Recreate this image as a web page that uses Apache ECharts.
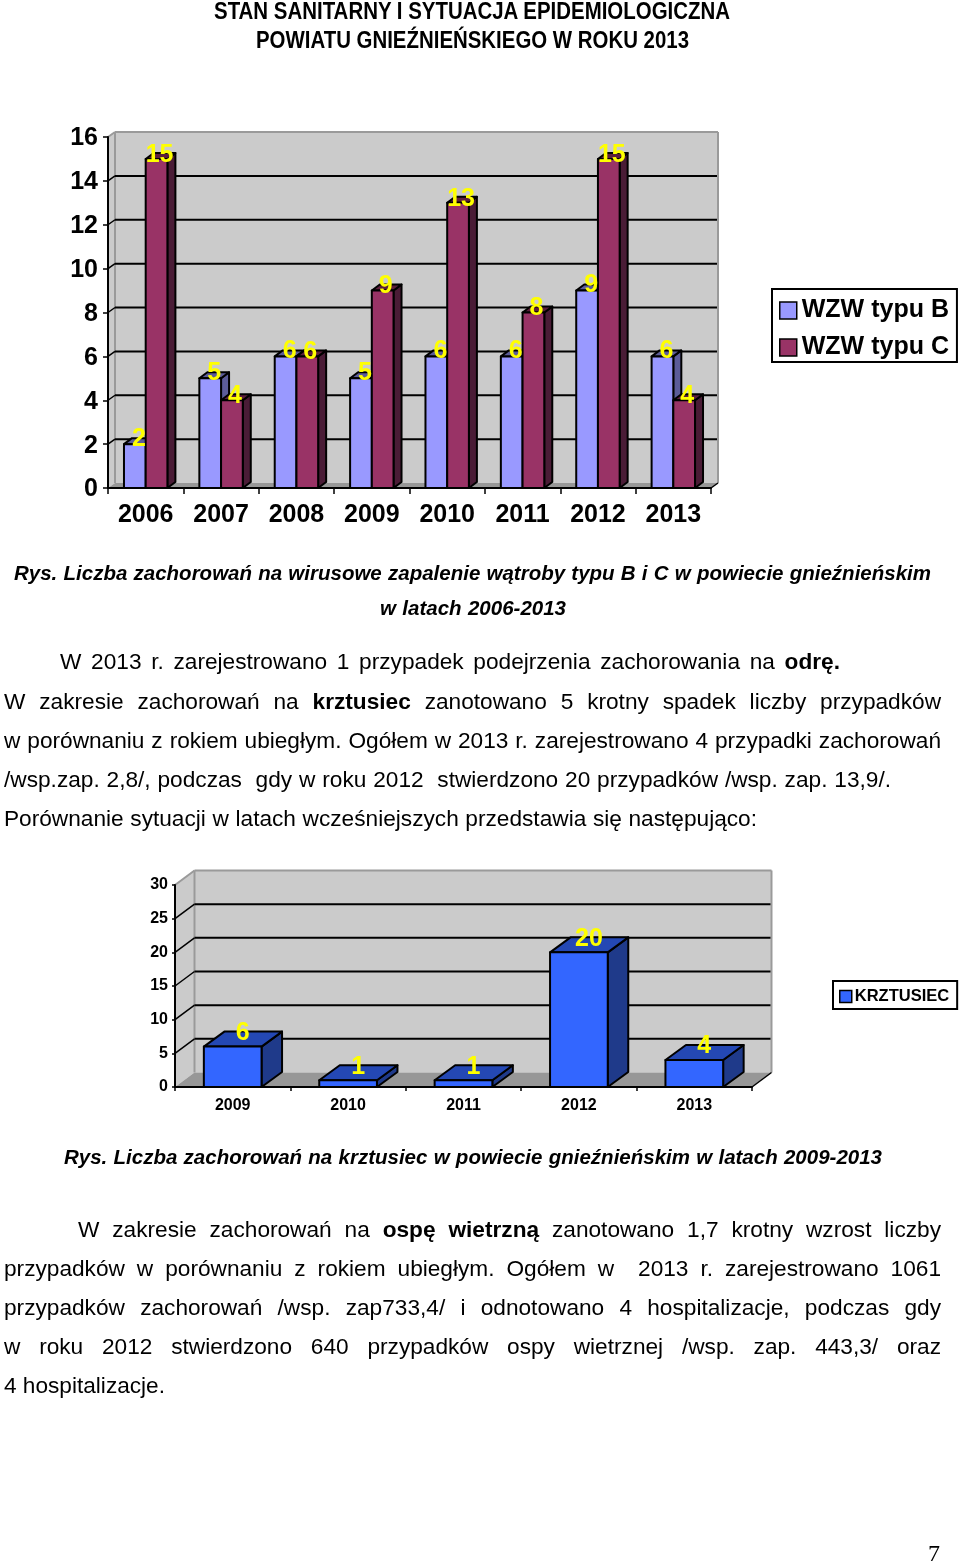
<!DOCTYPE html>
<html><head><meta charset="utf-8">
<script src="https://cdn.jsdelivr.net/npm/echarts@6/dist/echarts.min.js"></script>
<style>
html,body{margin:0;padding:0;background:#fff}
#page{position:relative;width:960px;height:1563px;overflow:hidden;background:#fff}
#chart{position:absolute;left:0;top:0;width:960px;height:1563px}
.ln{position:absolute;font-family:"Liberation Sans",Arial,sans-serif;color:#000;white-space:nowrap;text-align:justify;text-align-last:justify;line-height:1.2}
</style></head><body><div id="page"><div id="chart"></div></div>
<script>
const wzwYears = ['2006','2007','2008','2009','2010','2011','2012','2013'];
const wzwB = [2,5,6,5,6,6,9,6];
const wzwC = [15,4,6,9,13,8,15,4];
const krzYears = ['2009','2010','2011','2012','2013'];
const krzValues = [6,1,1,20,4];
const textLines = [
 'STAN SANITARNY I SYTUACJA EPIDEMIOLOGICZNA',
 'POWIATU GNIEŹNIEŃSKIEGO W ROKU 2013',
 'Rys. Liczba zachorowań na wirusowe zapalenie wątroby typu B i C w powiecie gnieźnieńskim',
 'w latach 2006-2013',
 'W 2013 r. zarejestrowano 1 przypadek podejrzenia zachorowania na <b>odrę.</b>',
 'W zakresie zachorowań na <b>krztusiec</b> zanotowano 5 krotny spadek liczby przypadków',
 'w porównaniu z rokiem ubiegłym. Ogółem w 2013 r. zarejestrowano 4 przypadki zachorowań',
 '/wsp.zap. 2,8/, podczas\u00a0 gdy w roku 2012\u00a0 stwierdzono 20 przypadków /wsp. zap. 13,9/.',
 'Porównanie sytuacji w latach wcześniejszych przedstawia się następująco:',
 'Rys. Liczba zachorowań na krztusiec w powiecie gnieźnieńskim w latach 2009-2013',
 'W zakresie zachorowań na <b>ospę wietrzną</b> zanotowano 1,7 krotny wzrost liczby',
 'przypadków w porównaniu z rokiem ubiegłym. Ogółem w\u00a0 2013 r. zarejestrowano 1061',
 'przypadków zachorowań /wsp. zap733,4/ i odnotowano 4 hospitalizacje, podczas gdy',
 'w roku 2012 stwierdzono 640 przypadków ospy wietrznej /wsp. zap. 443,3/ oraz',
 '4 hospitalizacje.'
];
const pageNumber = '7';
// layout of the text lines: [left, right, centre y, style]
const textLayout = [
 [214,730,11,'h'],[256,689,40,'h'],[14,931,573,'c'],[380,566,608,'c'],
 [60,840,662,'p'],[4,941,702,'p'],[4,941,741,'p'],[4,891,780,'p'],[4,757,819,'p'],
 [64,882,1157,'c'],[78,941,1230,'p'],[4,941,1269,'p'],[4,941,1308,'p'],[4,941,1347,'p'],[4,165,1386,'p']
];
const styles = {
 h:'font-weight:bold;font-size:24px',
 c:'font-weight:bold;font-style:italic;font-size:20.5px',
 p:'font-size:22.67px'
};
const page = document.getElementById('page');
textLines.forEach((t,i)=>{
  const [l,r,y,s]=textLayout[i];
  const d=document.createElement('div');
  d.className='ln';
  d.style.cssText=styles[s]+`;left:${l}px;top:${y}px;transform:translateY(-50%)`;
  d.innerHTML=t;
  page.appendChild(d);
  const natural=d.getBoundingClientRect().width, target=r-l;
  if(s==='h'){
    d.style.textAlignLast='left';
    d.style.transformOrigin='left center';
    d.style.transform=`translateY(-50%) scaleX(${target/natural})`;
  } else if(natural<=target){
    d.style.width=target+'px';
  } else {
    d.style.transformOrigin='left center';
    d.style.transform=`translateY(-50%) scaleX(${target/natural})`;
  }
});
const pn=document.createElement('div');
pn.className='ln';
pn.style.cssText='font-family:"Liberation Serif";font-size:24px;left:928px;top:1553px;transform:translateY(-50%);text-align:left;text-align-last:left';
pn.textContent=pageNumber;
page.appendChild(pn);

const FONT='"Liberation Sans",Arial,sans-serif';
function wall(ticks,dx,dy){
  return function(params,api){
    const cs=params.coordSys;
    const x0=cs.x,x1=cs.x+cs.width,yB=cs.y+cs.height,yT=cs.y;
    const wallFill='#cbcbcb',edge='#9a9a9a';
    const ch=[];
    const poly=(pts,fill)=>ch.push({type:'polygon',shape:{points:pts},style:{fill:fill,stroke:null}});
    const line=(a,b,c,w)=>ch.push({type:'line',shape:{x1:a[0],y1:a[1],x2:b[0],y2:b[1]},style:{stroke:c,lineWidth:w}});
    poly([[x0,yB],[x0+dx,yB-dy],[x0+dx,yT-dy],[x0,yT]],wallFill);
    poly([[x0+dx,yT-dy],[x1+dx,yT-dy],[x1+dx,yB-dy],[x0+dx,yB-dy]],wallFill);
    poly([[x0,yB],[x1,yB],[x1+dx,yB-dy],[x0+dx,yB-dy]],'#979797');
    line([x0,yT],[x0+dx,yT-dy],edge,2);
    line([x0+dx,yT-dy],[x1+dx,yT-dy],edge,2);
    line([x1+dx,yT-dy],[x1+dx,yB-dy],edge,2);
    line([x0+dx,yT-dy],[x0+dx,yB-dy],edge,2);
    ticks.forEach(t=>{
      const y=api.coord([0,t])[1];
      line([x0,y],[x0+dx,y-dy],'#000',1.5);
      line([x0+dx,y-dy],[x1+dx-1,y-dy],'#000',2);
    });
    line([x1,yB],[x1+dx,yB-dy],'#000',1.5);
    return {type:'group',children:ch};
  };
}
function bars(o){
  return function(params,api){
    const c=api.value(0),v=api.value(1);
    const p=api.coord([c,v]),b=api.coord([c,0]);
    const cw=api.size([1,0])[0];
    const w=cw*o.width;
    const l=p[0]+cw*o.offset,r=l+w;
    const t=p[1],bt=b[1],dx=o.dx,dy=o.dy;
    const st=(fill)=>({fill:fill,stroke:'#000',lineWidth:o.lw,lineJoin:'round'});
    return {type:'group',children:[
      {type:'polygon',shape:{points:[[r,bt],[r+dx,bt-dy],[r+dx,t-dy],[r,t]]},style:st(o.side)},
      {type:'polygon',shape:{points:[[l,t],[l+dx,t-dy],[r+dx,t-dy],[r,t]]},style:st(o.top)},
      {type:'rect',shape:{x:l,y:t,width:w,height:bt-t},style:st(o.front)},
      {type:'text',z2:100,style:{text:String(v),x:(l+r)/2+o.lx,y:t+o.ly,fill:'#ffff00',font:'bold 25px '+FONT,textAlign:'center',textVerticalAlign:'middle'}}
    ]};
  };
}
const toData=a=>a.map((v,i)=>[i,v]);
const chart=echarts.init(document.getElementById('chart'),null,{renderer:'canvas'});
const axisCommon={axisLine:{show:true,onZero:false,lineStyle:{color:'#000',width:2}},axisTick:{show:true,lineStyle:{color:'#000',width:1.5}},splitLine:{show:false},z:2};
const tick16=[2,4,6,8,10,12,14];
const tick30=[5,10,15,20,25];
chart.setOption({
  animation:false,
  backgroundColor:'#fff',
  grid:[
    {left:108,top:137,width:603,height:351,containLabel:false},
    {left:175,top:885,width:577,height:202,containLabel:false}
  ],
  xAxis:[
    Object.assign({},axisCommon,{type:'category',gridIndex:0,data:wzwYears,axisTick:{show:true,length:6,alignWithLabel:false,lineStyle:{color:'#000',width:1.5}},axisLabel:{color:'#000',fontFamily:FONT,fontWeight:'bold',fontSize:25,margin:15,interval:0}}),
    Object.assign({},axisCommon,{type:'category',gridIndex:1,data:krzYears,axisTick:{show:true,length:4,alignWithLabel:false,lineStyle:{color:'#000',width:1.5}},axisLabel:{color:'#000',fontFamily:FONT,fontWeight:'bold',fontSize:16,margin:11,interval:0}})
  ],
  yAxis:[
    Object.assign({},axisCommon,{type:'value',gridIndex:0,min:0,max:16,interval:2,axisTick:{show:true,length:5,lineStyle:{color:'#000',width:1.5}},axisLabel:{margin:10,formatter:'{a|{value}}',rich:{a:{color:'#000',fontFamily:FONT,fontWeight:'bold',fontSize:25,padding:[3,0,0,0]}}}}),
    Object.assign({},axisCommon,{type:'value',gridIndex:1,min:0,max:30,interval:5,axisTick:{show:true,length:3,lineStyle:{color:'#000',width:1.5}},axisLabel:{color:'#000',fontFamily:FONT,fontWeight:'bold',fontSize:16,margin:7}})
  ],
  legend:[
    {data:['WZW typu B','WZW typu C'],orient:'vertical',left:772,top:289,padding:[9,8,2,7],itemGap:12,itemWidth:17,itemHeight:17,borderColor:'#000',borderWidth:2,icon:'rect',selectedMode:false,
     itemStyle:{borderColor:'#000',borderWidth:1.5},textStyle:{color:'#000',fontFamily:FONT,fontWeight:'bold',fontSize:25}},
    {data:['KRZTUSIEC'],orient:'vertical',left:833,top:981,padding:[7,8,4,6],itemWidth:12,itemHeight:12,borderColor:'#000',borderWidth:2,icon:'rect',selectedMode:false,
     itemStyle:{borderColor:'#000',borderWidth:1.5},textStyle:{color:'#000',fontFamily:FONT,fontWeight:'bold',fontSize:16.5,padding:[0,0,0,-2]}}
  ],
  series:[
    {type:'custom',name:'wall1',xAxisIndex:0,yAxisIndex:0,z:0,silent:true,renderItem:wall(tick16,7,5),data:[[0,0]]},
    {type:'custom',name:'wall2',xAxisIndex:1,yAxisIndex:1,z:0,silent:true,renderItem:wall(tick30,19.5,14.5),data:[[0,0]]},
    {type:'custom',name:'WZW typu B',xAxisIndex:0,yAxisIndex:0,z:3,itemStyle:{color:'#9999ff'},data:toData(wzwB),
     renderItem:bars({width:0.288,offset:-0.288,dx:8,dy:6,lw:2,front:'#9999ff',side:'#5c5c99',top:'#5c5c99',lx:4,ly:-5})},
    {type:'custom',name:'WZW typu C',xAxisIndex:0,yAxisIndex:0,z:3,itemStyle:{color:'#993366'},data:toData(wzwC),
     renderItem:bars({width:0.288,offset:0,dx:8,dy:6,lw:2,front:'#993366',side:'#4a1c36',top:'#5c1f3d',lx:3,ly:-4})},
    {type:'custom',name:'KRZTUSIEC',xAxisIndex:1,yAxisIndex:1,z:3,itemStyle:{color:'#3366ff'},data:toData(krzValues),
     renderItem:bars({width:0.5,offset:-0.25,dx:20.5,dy:15,lw:2,front:'#3366ff',side:'#1f3a8a',top:'#2448b4',lx:10,ly:-13.5})}
  ]
});
</script></body></html>
